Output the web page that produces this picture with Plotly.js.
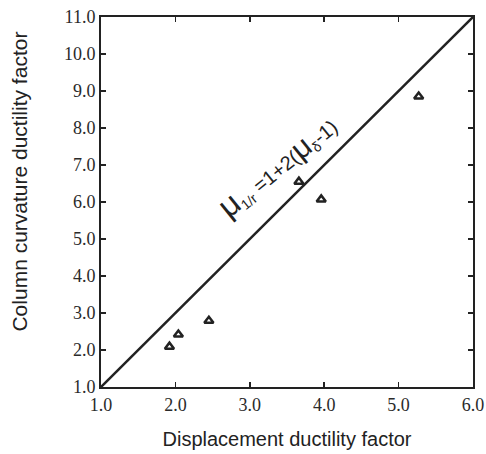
<!DOCTYPE html>
<html><head><meta charset="utf-8">
<script src="https://cdn.plot.ly/plotly-3.0.1.min.js"></script>
<style>body{margin:0;background:#fff}</style>
</head><body>
<div id="chart" style="width:486px;height:454px"></div>
<script>
const dispDuctility = [1.92, 2.04, 2.45, 3.66, 3.96, 5.27];
const curvDuctility = [2.09, 2.42, 2.79, 6.55, 6.07, 8.85];
const lineX = [1.0, 6.0];
const lineY = lineX.map(v => 1 + 2 * (v - 1));
const xTicks = [1, 2, 3, 4, 5, 6];
const yTicks = [1, 2, 3, 4, 5, 6, 7, 8, 9, 10, 11];

const ink = '#222';
const traces = [
  {x: lineX, y: lineY, mode: 'lines', line: {color: ink, width: 2.5}, hoverinfo: 'skip'},
  {x: dispDuctility, y: curvDuctility, mode: 'markers',
   marker: {symbol: 'triangle-up-open', size: 8, color: ink, line: {width: 2.5, color: ink}}}
];
const layout = {
  width: 486, height: 454,
  margin: {l: 101, r: 13, t: 17, b: 67},
  showlegend: false,
  paper_bgcolor: '#fff', plot_bgcolor: '#fff',
  xaxis: {
    range: [1, 6], tickvals: xTicks, ticktext: xTicks.map(v => v.toFixed(1)),
    ticks: 'inside', ticklen: 5, tickwidth: 1.5, tickcolor: ink,
    showline: true, linecolor: ink, linewidth: 2, mirror: 'ticks',
    showgrid: false, zeroline: false, ticklabeloverflow: 'allow',
    tickfont: {family: 'Liberation Serif', size: 18, color: '#2a2a2a'},
    title: {text: 'Displacement ductility factor', standoff: 18,
            font: {family: 'Liberation Sans', size: 20, color: '#222'}}
  },
  yaxis: {
    range: [1, 11], tickvals: yTicks, ticktext: yTicks.map(v => v.toFixed(1)),
    ticks: 'inside', ticklen: 5, tickwidth: 1.5, tickcolor: ink,
    showline: true, linecolor: ink, linewidth: 2, mirror: 'ticks',
    showgrid: false, zeroline: false, ticklabeloverflow: 'allow',
    tickfont: {family: 'Liberation Serif', size: 18, color: '#2a2a2a'}
  },
  annotations: [
    {
      x: -0.218, y: 0.555, xref: 'paper', yref: 'paper', showarrow: false,
      textangle: -90, xanchor: 'center', yanchor: 'middle',
      text: 'Column curvature ductility factor',
      font: {family: 'Liberation Sans', size: 21, color: '#222'}
    },
    {
      x: 3.36, y: 6.98, xref: 'x', yref: 'y', showarrow: false,
      textangle: -39,
      text: '<span style="font-size:32px">μ</span><sub>1/r</sub> =1+2(<span style="font-size:30px">μ</span><sub>δ</sub>-1)',
      font: {family: 'Liberation Sans', size: 20, color: '#222'}
    }
  ]
};
Plotly.newPlot('chart', traces, layout, {displayModeBar: false, staticPlot: true});
</script>
</body></html>
